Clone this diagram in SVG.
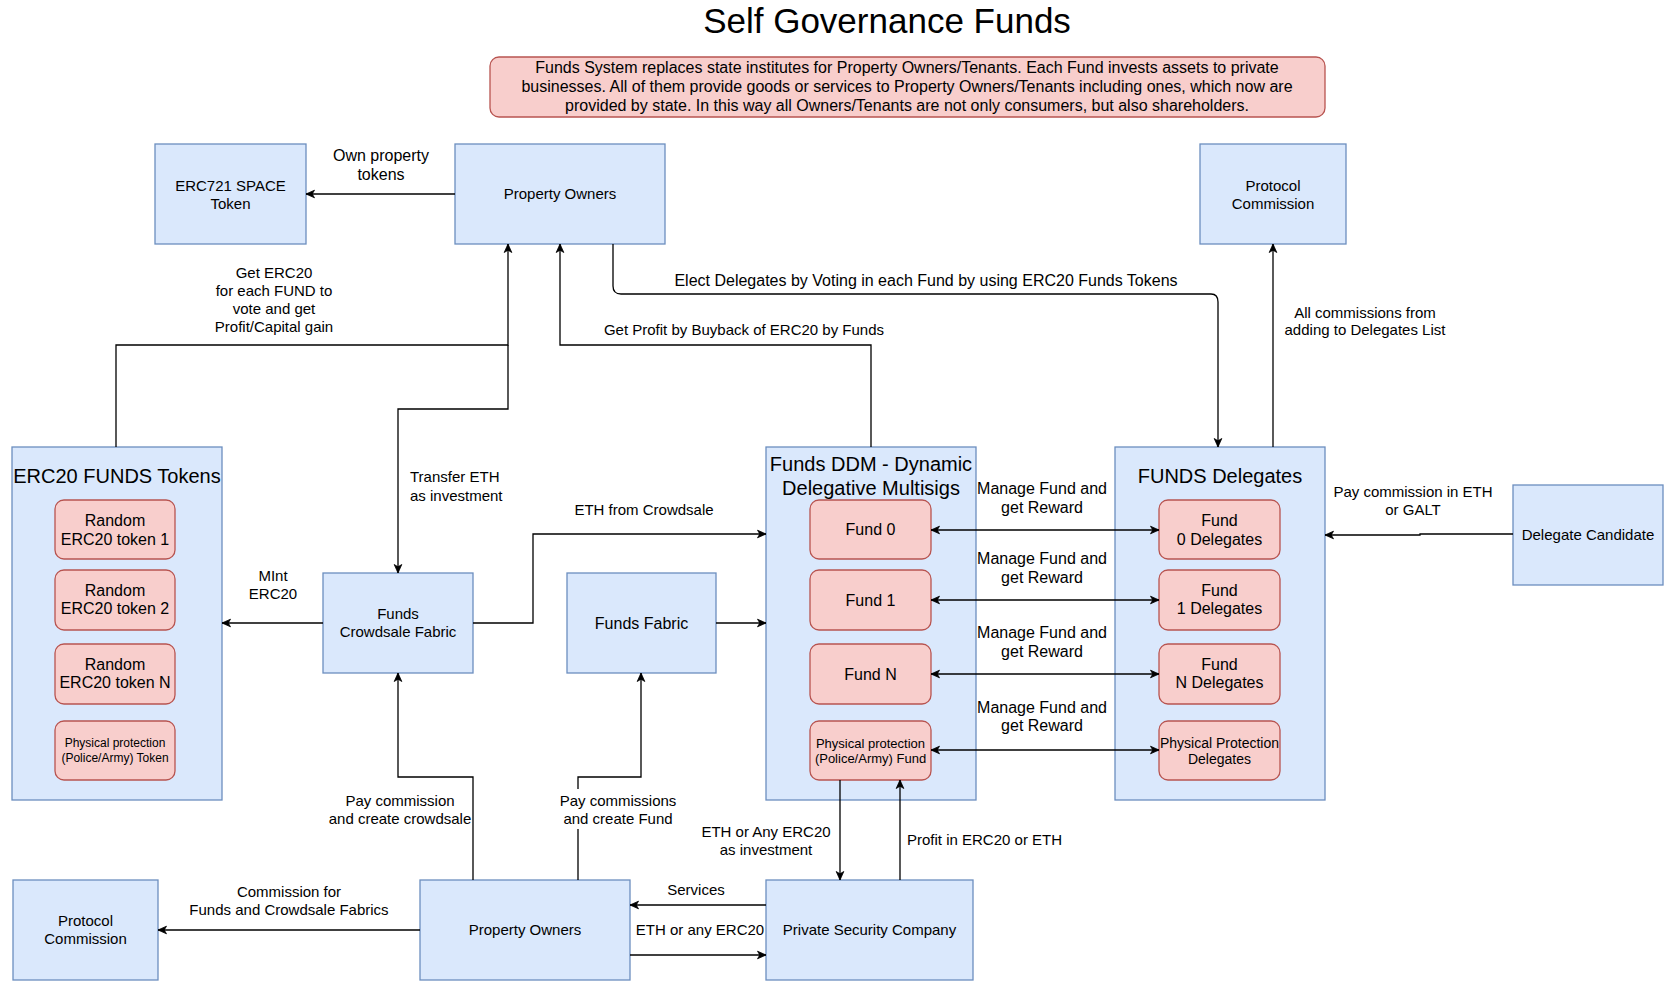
<svg xmlns="http://www.w3.org/2000/svg" width="1664" height="981" viewBox="0 0 1664 981">
<style>
text{font-family:"Liberation Sans",Arial,Helvetica,sans-serif;fill:#000}
.c{text-anchor:middle}
.s{text-anchor:start}
.f15{font-size:15px}
.f16{font-size:16px}
.f20{font-size:20px}
.blue{fill:#dae8fc;stroke:#6c8ebf;stroke-width:1.3}
.red{fill:#f8cecc;stroke:#b85450;stroke-width:1.3}
.ln{fill:none;stroke:#000;stroke-width:1.3}
.arr{marker-end:url(#ah)}
.bi{marker-start:url(#ah);marker-end:url(#ah)}
</style>
<defs>
<marker id="ah" viewBox="0 0 10 10" refX="9.5" refY="5" markerWidth="10" markerHeight="10" orient="auto-start-reverse" markerUnits="userSpaceOnUse">
<path d="M1,1.2 L9.5,5 L1,8.8 L3.3,5 z" fill="#000" stroke="#000" stroke-width="0.8"/>
</marker>
</defs>
<rect width="1664" height="981" fill="#fff"/>

<text class="c" x="887" y="33" style="font-size:35px">Self Governance Funds</text>

<g id="note">
<rect x="490" y="57" width="835" height="60" rx="9" class="red"/>
<text class="c f16" x="907" y="73">Funds System replaces state institutes for Property Owners/Tenants. Each Fund invests assets to private</text>
<text class="c f16" x="907" y="92">businesses. All of them provide goods or services to Property Owners/Tenants including ones, which now are</text>
<text class="c f16" x="907" y="111">provided by state. In this way all Owners/Tenants are not only consumers, but also shareholders.</text>
</g>

<g id="erc721">
<rect x="155" y="144" width="151" height="100" class="blue"/>
<text class="c f15" x="230.5" y="191">ERC721 SPACE</text>
<text class="c f15" x="230.5" y="209">Token</text>
</g>
<g id="property-owners-top">
<rect x="455" y="144" width="210" height="100" class="blue"/>
<text class="c f15" x="560" y="199">Property Owners</text>
</g>
<g id="protocol-commission-top">
<rect x="1200" y="144" width="146" height="100" class="blue"/>
<text class="c f15" x="1273" y="191">Protocol</text>
<text class="c f15" x="1273" y="209">Commission</text>
</g>

<g id="erc20-funds-tokens">
<rect x="12" y="447" width="210" height="353" class="blue"/>
<text class="c f20" x="117" y="483">ERC20 FUNDS Tokens</text>
<rect x="55" y="500" width="120" height="59" rx="9" class="red"/>
<text class="c f16" x="115" y="526">Random</text>
<text class="c f16" x="115" y="545">ERC20 token 1</text>
<rect x="55" y="570" width="120" height="60" rx="9" class="red"/>
<text class="c f16" x="115" y="596">Random</text>
<text class="c f16" x="115" y="614">ERC20 token 2</text>
<rect x="55" y="644" width="120" height="60" rx="9" class="red"/>
<text class="c f16" x="115" y="670">Random</text>
<text class="c f16" x="115" y="688">ERC20 token N</text>
<rect x="55" y="721" width="120" height="59" rx="9" class="red"/>
<text class="c" x="115" y="747" style="font-size:12px">Physical protection</text>
<text class="c" x="115" y="762" style="font-size:12px">(Police/Army) Token</text>
</g>

<g id="funds-ddm">
<rect x="766" y="447" width="210" height="353" class="blue"/>
<text class="c f20" x="871" y="471">Funds DDM - Dynamic</text>
<text class="c f20" x="871" y="495">Delegative Multisigs</text>
<rect x="810" y="500" width="121" height="59" rx="9" class="red"/>
<text class="c f16" x="870.5" y="535">Fund 0</text>
<rect x="810" y="570" width="121" height="60" rx="9" class="red"/>
<text class="c f16" x="870.5" y="606">Fund 1</text>
<rect x="810" y="644" width="121" height="60" rx="9" class="red"/>
<text class="c f16" x="870.5" y="680">Fund N</text>
<rect x="810" y="721" width="121" height="59" rx="9" class="red"/>
<text class="c" x="870.5" y="747.5" style="font-size:13px">Physical protection</text>
<text class="c" x="870.5" y="762.5" style="font-size:13px">(Police/Army) Fund</text>
</g>

<g id="funds-delegates">
<rect x="1115" y="447" width="210" height="353" class="blue"/>
<text class="c f20" x="1220" y="483">FUNDS Delegates</text>
<rect x="1159" y="500" width="121" height="59" rx="9" class="red"/>
<text class="c f16" x="1219.5" y="526">Fund</text>
<text class="c f16" x="1219.5" y="545">0 Delegates</text>
<rect x="1159" y="570" width="121" height="60" rx="9" class="red"/>
<text class="c f16" x="1219.5" y="596">Fund</text>
<text class="c f16" x="1219.5" y="614">1 Delegates</text>
<rect x="1159" y="644" width="121" height="60" rx="9" class="red"/>
<text class="c f16" x="1219.5" y="670">Fund</text>
<text class="c f16" x="1219.5" y="688">N Delegates</text>
<rect x="1159" y="721" width="121" height="59" rx="9" class="red"/>
<text class="c" x="1219.5" y="748" style="font-size:14px">Physical Protection</text>
<text class="c" x="1219.5" y="764" style="font-size:14px">Delegates</text>
</g>

<g id="delegate-candidate">
<rect x="1513" y="485" width="150" height="100" class="blue"/>
<text class="c f15" x="1588" y="540">Delegate Candidate</text>
</g>

<g id="funds-crowdsale-fabric">
<rect x="323" y="573" width="150" height="100" class="blue"/>
<text class="c f15" x="398" y="619">Funds</text>
<text class="c f15" x="398" y="637">Crowdsale Fabric</text>
</g>
<g id="funds-fabric">
<rect x="567" y="573" width="149" height="100" class="blue"/>
<text class="c f16" x="641.5" y="629">Funds Fabric</text>
</g>

<g id="protocol-commission-bottom">
<rect x="13" y="880" width="145" height="100" class="blue"/>
<text class="c f15" x="85.5" y="926">Protocol</text>
<text class="c f15" x="85.5" y="944">Commission</text>
</g>
<g id="property-owners-bottom">
<rect x="420" y="880" width="210" height="100" class="blue"/>
<text class="c f15" x="525" y="935">Property Owners</text>
</g>
<g id="private-security-company">
<rect x="766" y="880" width="207" height="100" class="blue"/>
<text class="c f15" x="869.5" y="935">Private Security Company</text>
</g>

<g id="connectors">
<path class="ln arr" d="M455,194 H306"/>
<path class="ln arr" d="M116,447 V345 H508 V244"/>
<path class="ln arr" d="M508,345 V409 H398 V573"/>
<path class="ln arr" d="M871,447 V345 H560 V244"/>
<path class="ln arr" d="M613,244 V286 Q613,294 621,294 H1211 Q1218,294 1218,302 V447"/>
<path class="ln arr" d="M1273,447 V244"/>
<path class="ln arr" d="M1513,534 H1420 V535 H1325"/>
<path class="ln bi" d="M931,530 H1159"/>
<path class="ln bi" d="M931,600 H1159"/>
<path class="ln bi" d="M931,674 H1159"/>
<path class="ln bi" d="M931,750 H1159"/>
<path class="ln arr" d="M473,623 H533 V534 H766"/>
<path class="ln arr" d="M716,623 H766"/>
<path class="ln arr" d="M323,623 H222"/>
<path class="ln arr" d="M473,880 V777 H398 V673"/>
<path class="ln arr" d="M578,880 V777 H641 V673"/>
<path class="ln arr" d="M420,930 H158"/>
<path class="ln arr" d="M766,905 H630"/>
<path class="ln arr" d="M630,955 H766"/>
<path class="ln arr" d="M840,780 V880"/>
<path class="ln arr" d="M900,880 V780"/>

<text class="c f16" x="381" y="161">Own property</text>
<text class="c f16" x="381" y="180">tokens</text>
<text class="c f15" x="274" y="278">Get ERC20</text>
<text class="c f15" x="274" y="296">for each FUND to</text>
<text class="c f15" x="274" y="314">vote and get</text>
<text class="c f15" x="274" y="332">Profit/Capital gain</text>
<text class="s f15" x="410" y="482">Transfer ETH</text>
<text class="s f15" x="410" y="501">as investment</text>
<text class="c f15" x="744" y="335">Get Profit by Buyback of ERC20 by Funds</text>
<text class="c f16" x="926" y="286">Elect Delegates by Voting in each Fund by using ERC20 Funds Tokens</text>
<text class="c f15" x="1365" y="318">All commissions from</text>
<text class="c f15" x="1365" y="335">adding to Delegates List</text>
<text class="c f15" x="1413" y="497">Pay commission in ETH</text>
<text class="c f15" x="1413" y="515">or GALT</text>
<text class="c f16" x="1042" y="494">Manage Fund and</text>
<text class="c f16" x="1042" y="513">get Reward</text>
<text class="c f16" x="1042" y="564">Manage Fund and</text>
<text class="c f16" x="1042" y="583">get Reward</text>
<text class="c f16" x="1042" y="638">Manage Fund and</text>
<text class="c f16" x="1042" y="657">get Reward</text>
<text class="c f16" x="1042" y="713">Manage Fund and</text>
<text class="c f16" x="1042" y="731">get Reward</text>
<text class="c f15" x="644" y="515">ETH from Crowdsale</text>
<text class="c f15" x="273" y="581">MInt</text>
<text class="c f15" x="273" y="599">ERC20</text>
<text class="c f15" x="400" y="806">Pay commission</text>
<text class="c f15" x="400" y="824">and create crowdsale</text>
<rect x="560" y="789" width="116" height="40" fill="#fff"/>
<text class="c f15" x="618" y="806">Pay commissions</text>
<text class="c f15" x="618" y="824">and create Fund</text>
<text class="c f15" x="289" y="897">Commission for</text>
<text class="c f15" x="289" y="915">Funds and Crowdsale Fabrics</text>
<text class="c f15" x="696" y="895">Services</text>
<text class="c f15" x="700" y="935">ETH or any ERC20</text>
<text class="c f15" x="766" y="837">ETH or Any ERC20</text>
<text class="c f15" x="766" y="855">as investment</text>
<text class="s f15" x="907" y="845">Profit in ERC20 or ETH</text>
</g>
</svg>
